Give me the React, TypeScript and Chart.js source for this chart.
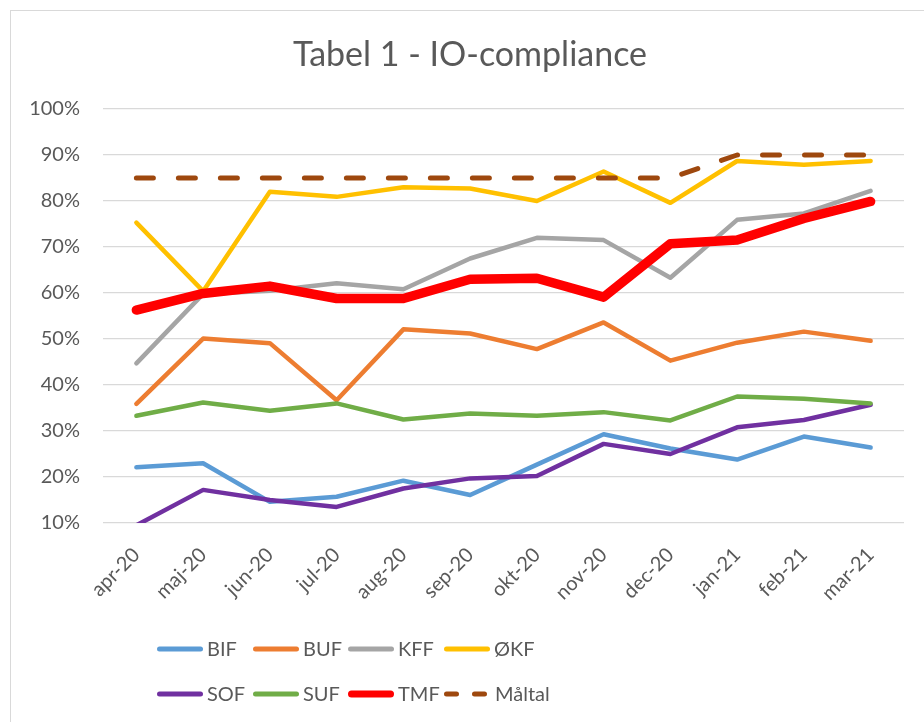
import React, { useEffect, useRef } from "react";
import { Chart, registerables } from "chart.js";

Chart.register(...registerables);

const months = ["apr-20", "maj-20", "jun-20", "jul-20", "aug-20", "sep-20", "okt-20", "nov-20", "dec-20", "jan-21", "feb-21", "mar-21"];
const BIF = [22.1, 23.0, 14.6, 15.7, 19.2, 16.1, 22.7, 29.3, 26.2, 23.8, 28.8, 26.4];
const BUF = [35.9, 50.1, 49.1, 36.7, 52.1, 51.2, 47.8, 53.6, 45.3, 49.2, 51.6, 49.6];
const KFF = [44.7, 59.8, 60.5, 62.1, 60.8, 67.5, 72.0, 71.5, 63.3, 75.9, 77.3, 82.2];
const OKF = [75.3, 60.4, 82.0, 80.9, 83.0, 82.7, 80.0, 86.4, 79.6, 88.7, 87.9, 88.7];
const SOF = [9.5, 17.2, 15.0, 13.5, 17.5, 19.7, 20.2, 27.2, 25.0, 30.8, 32.4, 35.7];
const SUF = [33.3, 36.2, 34.4, 36.0, 32.5, 33.8, 33.3, 34.1, 32.3, 37.5, 37.0, 36.0];
const TMF = [56.3, 59.9, 61.5, 58.8, 58.8, 63.0, 63.2, 59.1, 70.7, 71.5, 76.2, 79.9];
const MALTAL = [85, 85, 85, 85, 85, 85, 85, 85, 85, 90, 90, 90];

const yMin = 10;
const yMax = 100;
const yStep = 10;

const TITLE = "Tabel 1 - IO-compliance";
const FONT = "Lato, 'Open Sans', sans-serif";
const TEXT = "#595959";

const seriesDefs = [
  { label: "BIF", data: BIF, color: "#5B9BD5", width: 4.5 },
  { label: "BUF", data: BUF, color: "#ED7D31", width: 4.5 },
  { label: "KFF", data: KFF, color: "#A5A5A5", width: 4.5 },
  { label: "ØKF", data: OKF, color: "#FFC000", width: 4.5 },
  { label: "SOF", data: SOF, color: "#7030A0", width: 4.5 },
  { label: "SUF", data: SUF, color: "#70AD47", width: 4.5 },
  { label: "TMF", data: TMF, color: "#FF0000", width: 9.5 },
  { label: "Måltal", data: MALTAL, color: "#9E480E", width: 5, dash: [17, 25] },
];

const titlePlugin = {
  id: "boxTitle",
  afterDraw(chart: any) {
    const ctx = chart.ctx;
    ctx.save();
    ctx.fillStyle = TEXT;
    ctx.font = `34px ${FONT}`;
    ctx.textAlign = "center";
    ctx.textBaseline = "middle";
    ctx.fillText(TITLE, 470, 55);
    ctx.restore();
  },
};

const legendPlugin = {
  id: "gridLegend",
  afterDraw(chart: any) {
    const ctx = chart.ctx;
    const colX = [157, 253, 348, 444];
    const rowY = [649, 694];
    const lineLen = 46;
    ctx.save();
    chart.data.datasets.forEach((ds: any, i: number) => {
      const col = i % 4;
      const row = Math.floor(i / 4);
      const x0 = colX[col];
      const y = rowY[row];
      const isDash = !!ds.borderDash && ds.borderDash.length > 0;
      const lw = ds.label === "TMF" ? 7 : 5;
      ctx.strokeStyle = ds.borderColor;
      ctx.lineWidth = lw;
      ctx.lineCap = "round";
      ctx.beginPath();
      if (isDash) {
        ctx.setLineDash([10, 18]);
      } else {
        ctx.setLineDash([]);
      }
      ctx.moveTo(x0 + lw / 2, y);
      ctx.lineTo(x0 + lineLen - lw / 2, y);
      ctx.stroke();
      ctx.setLineDash([]);
      ctx.fillStyle = TEXT;
      ctx.font = `20px ${FONT}`;
      ctx.textBaseline = "middle";
      ctx.textAlign = "left";
      ctx.fillText(ds.label, isDash ? x0 + 51 : x0 + 50, y + 1);
    });
    ctx.restore();
  },
};

export default function App() {
  const ref = useRef<HTMLCanvasElement | null>(null);
  useEffect(() => {
    if (!ref.current) return;
    const chart = new Chart(ref.current, {
      type: "line",
      data: {
        labels: months,
        datasets: seriesDefs.map((s, i) => ({
          label: s.label,
          data: s.data,
          borderColor: s.color,
          backgroundColor: s.color,
          borderWidth: s.width,
          borderDash: s.dash || [],
          borderCapStyle: "round",
          borderJoinStyle: "round",
          pointRadius: 0,
          pointHoverRadius: 0,
          fill: false,
          tension: 0,
          order: seriesDefs.length - i,
        })),
      },
      options: {
        responsive: false,
        animation: false,
        devicePixelRatio: 1,
        layout: { padding: { top: 109, left: 0, right: 20, bottom: 99 } },
        plugins: {
          legend: { display: false },
          tooltip: { enabled: false },
          title: { display: false },
        },
        scales: {
          x: {
            offset: true,
            grid: { display: false, offset: true },
            border: { display: false },
            ticks: {
              color: TEXT,
              font: { family: FONT, size: 20 },
              minRotation: 45,
              maxRotation: 45,
              autoSkip: false,
              padding: 12,
            },
            afterFit: (s: any) => {
              s.height = 100;
            },
          },
          y: {
            min: yMin,
            max: yMax,
            grid: { color: "#D9D9D9", lineWidth: 1.3, drawTicks: false },
            border: { display: false },
            ticks: {
              stepSize: yStep,
              color: TEXT,
              font: { family: FONT, size: 20 },
              padding: 23,
              callback: (v: any) => `${v}%`,
            },
            afterFit: (s: any) => {
              s.width = 103;
            },
          },
        },
      },
      plugins: [titlePlugin, legendPlugin],
    } as any);
    return () => chart.destroy();
  }, []);

  return (
    <div style={{ position: "fixed", left: 0, top: 0, width: 924, height: 722, overflow: "hidden", background: "#fff" }}>
      <div
        style={{
          position: "absolute",
          left: 10,
          top: 10,
          width: 2000,
          height: 2000,
          border: "1px solid #D9D9D9",
        }}
      />
      <canvas ref={ref} width={924} height={722} style={{ position: "absolute", left: 0, top: 0, width: 924, height: 722 }} />
    </div>
  );
}
